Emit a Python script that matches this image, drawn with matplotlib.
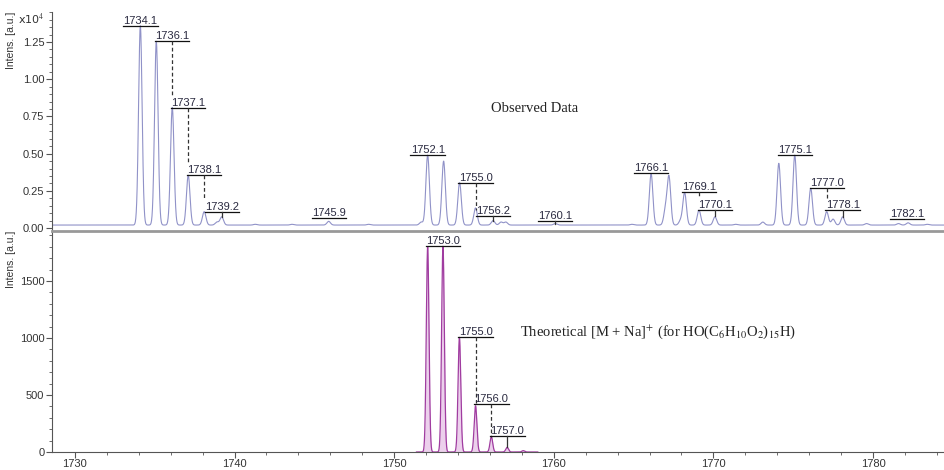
import numpy as np
import matplotlib
matplotlib.use("Agg")
import matplotlib.pyplot as plt
from matplotlib.ticker import MultipleLocator

plt.rcParams['font.family'] = ['Liberation Sans', 'DejaVu Sans']
plt.rcParams['mathtext.fontset'] = 'stix'

# observed spectrum: peak m/z and intensity (x10^4)
obs_mz = [1734.1, 1735.1, 1736.1, 1737.1, 1738.1, 1738.9, 1739.2, 1741.3, 1743.6,
          1745.9, 1748.4, 1751.7, 1752.1, 1753.1, 1754.1, 1755.1, 1756.2, 1756.7,
          1757.0, 1760.1, 1762.8, 1764.9, 1766.1, 1767.0, 1767.22, 1767.95, 1768.2,
          1769.1, 1770.1, 1771.4, 1773.1, 1774.1, 1775.1, 1776.1, 1777.1, 1777.5,
          1778.1, 1779.6, 1781.6, 1782.2, 1783.4]
obs_int = [1.36, 1.255, 0.81, 0.355, 0.11, 0.04, 0.075, 0.025, 0.025,
           0.045, 0.025, 0.04, 0.49, 0.45, 0.305, 0.135, 0.05, 0.04,
           0.04, 0.03, 0.02, 0.025, 0.365, 0.12, 0.34, 0.05, 0.237,
           0.12, 0.075, 0.025, 0.04, 0.435, 0.49, 0.267, 0.11, 0.06,
           0.075, 0.03, 0.03, 0.035, 0.025]
obs_base = 0.02

# theoretical isotope pattern [M + Na]+
theo_mz = [1752.1, 1753.06, 1754.09, 1755.1, 1756.09, 1757.08, 1758.09]
theo_int = [1800, 1805, 1006, 406, 134, 41, 12]

# peak labels: text, m/z, label level, stem end, dashed
obs_labels = [("1734.1", 1734.1, 1.36, None, False),
              ("1736.1", 1736.1, 1.255, 0.88, True),
              ("1737.1", 1737.1, 0.81, 0.435, True),
              ("1738.1", 1738.1, 0.355, 0.19, True),
              ("1739.2", 1739.2, 0.11, 0.075, False),
              ("1745.9", 1745.9, 0.065, None, False),
              ("1752.1", 1752.1, 0.49, None, False),
              ("1755.0", 1755.1, 0.305, 0.12, True),
              ("1756.2", 1756.2, 0.08, 0.045, False),
              ("1760.1", 1760.1, 0.045, 0.03, False),
              ("1766.1", 1766.1, 0.37, None, False),
              ("1769.1", 1769.1, 0.244, 0.205, True),
              ("1770.1", 1770.1, 0.12, 0.08, False),
              ("1775.1", 1775.1, 0.49, None, False),
              ("1777.0", 1777.1, 0.267, 0.205, True),
              ("1778.1", 1778.1, 0.12, 0.075, False),
              ("1782.1", 1782.15, 0.06, None, False)]
theo_labels = [("1753.0", 1753.05, 1810, None, False),
               ("1755.0", 1755.1, 1006, 427, True),
               ("1756.0", 1756.1, 421, 134, True),
               ("1757.0", 1757.1, 140, 41, False)]

xmin, xmax = 1728.56, 1784.45

fig = plt.figure(figsize=(9.44, 4.70), dpi=100)
ax1 = fig.add_axes([0.055, 0.5085, 0.945, 0.466])
ax2 = fig.add_axes([0.055, 0.0383, 0.945, 0.4702])

x = np.linspace(xmin, xmax, 6000)
y1 = np.full_like(x, obs_base)
for m, h in zip(obs_mz, obs_int):
    y1 += (h - obs_base) * np.exp(-0.5 * ((x - m) / 0.11) ** 2)
ax1.plot(x, y1, color='#9092c8', lw=0.8)

x2 = np.linspace(1751.4, 1759.0, 3000)
y2 = np.zeros_like(x2)
for m, h in zip(theo_mz, theo_int):
    y2 += h * np.exp(-0.5 * ((x2 - m) / 0.085) ** 2)
ax2.fill_between(x2, 0, y2, color='#ecd0ec', lw=0)
ax2.plot(x2, y2, color='#a03ca0', lw=0.9)

def draw_labels(ax, labels, width, tsize):
    for txt, m, lev, stem, dashed in labels:
        ax.plot([m - width / 2, m + width / 2], [lev, lev], color='#111111', lw=0.9)
        ax.text(m, lev, txt, ha='center', va='bottom', fontsize=tsize, color='#2a2a40')
        if stem is not None:
            ax.plot([m, m], [lev, stem], color='#333333', lw=0.9,
                    ls=(0, (3, 2)) if dashed else '-')

draw_labels(ax1, obs_labels, 2.15, 8)
draw_labels(ax2, theo_labels, 2.15, 8)

ax1.set_xlim(xmin, xmax)
ax1.set_ylim(-0.02, 1.452)
ax2.set_xlim(xmin, xmax)
ax2.set_ylim(0, 1939)

for ax in (ax1, ax2):
    ax.spines['right'].set_visible(False)
    ax.spines['left'].set_color('#555555')
    ax.tick_params(axis='both', which='both', colors='#555555', labelcolor='#333333',
                   labelsize=8, direction='out', pad=1.5)
    ax.tick_params(axis='both', which='major', length=4)
    ax.tick_params(axis='both', which='minor', length=2.5)

ax1.spines['top'].set_visible(False)
ax1.spines['bottom'].set_visible(False)
ax1.set_xticks([])
ax1.yaxis.set_minor_locator(MultipleLocator(0.05))
ax1.yaxis.set_major_formatter(matplotlib.ticker.FormatStrFormatter('%.2f'))
ax1.set_yticks([0, 0.25, 0.5, 0.75, 1.0, 1.25])

ax2.spines['top'].set_color('#999999')
ax2.spines['top'].set_linewidth(2)
ax2.spines['bottom'].set_color('#555555')
ax2.xaxis.set_major_locator(MultipleLocator(10))
ax2.xaxis.set_minor_locator(MultipleLocator(2))
ax2.yaxis.set_major_locator(MultipleLocator(500))
ax2.yaxis.set_minor_locator(MultipleLocator(100))
ax2.tick_params(axis='x', which='major', pad=1)

ax1.text(-0.008, 0.965, r'x10$^{4}$', transform=ax1.transAxes, ha='right', va='center',
         fontsize=8, color='#333333', family='DejaVu Sans')
for ax in (ax1, ax2):
    ax.text(-0.046, 1.0, 'Intens. [a.u.]', transform=ax.transAxes, rotation=90,
            ha='center', va='top', fontsize=7.5, color='#333333')

ax1.text(1758.8, 0.80, 'Observed Data', ha='center', va='center', fontsize=10.5,
         family='Liberation Serif', color='#222222')
ax2.text(1757.9, 1053, r'Theoretical [M + Na]$^{+}$ (for HO(C$_{6}$H$_{10}$O$_{2}$)$_{15}$H)',
         ha='left', va='center', fontsize=10.5, family='Liberation Serif', color='#222222')

fig.savefig('out.png', dpi=100)
